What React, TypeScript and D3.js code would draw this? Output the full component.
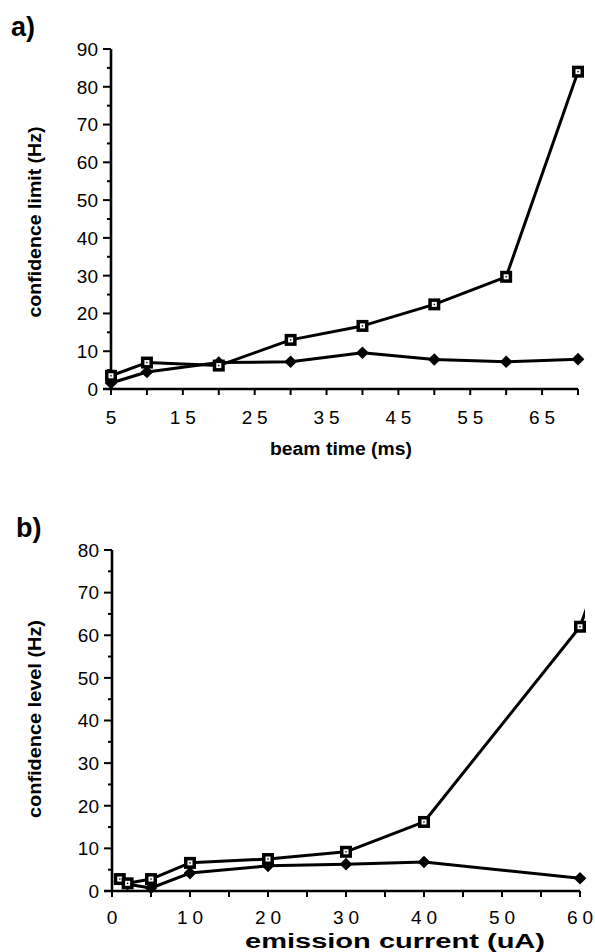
import React from "react";
import * as d3 from "d3";

// ---- panel a: beam time ----
const beamTime = [5, 10, 20, 30, 40, 50, 60, 70];
const beamSquares = [3.5, 7, 6.2, 13, 16.7, 22.4, 29.7, 84];
const beamDiamonds = [1.6, 4.5, 7, 7.2, 9.6, 7.8, 7.2, 7.9];
const beamXTickLabels = [5, 15, 25, 35, 45, 55, 65];
const beamYTickLabels = [0, 10, 20, 30, 40, 50, 60, 70, 80, 90];

// ---- panel b: emission current ----
const emissionSqX = [1, 2, 5, 10, 20, 30, 40, 60, 70];
const emissionSquares = [2.8, 1.8, 2.8, 6.6, 7.5, 9.2, 16.2, 62, 113];
const emissionDiaX = [2, 5, 10, 20, 30, 40, 60];
const emissionDiamonds = [1.6, 0.7, 4.2, 5.9, 6.3, 6.8, 3];
const emissionXTickLabels = [0, 10, 20, 30, 40, 50, 60];
const emissionYTickLabels = [0, 10, 20, 30, 40, 50, 60, 70, 80];

const FONT = "'Liberation Sans', Arial, Helvetica, sans-serif";

type PanelProps = {
  id: string;
  letter: string;
  letterX: number;
  letterY: number;
  xDomain: [number, number];
  xRange: [number, number];
  yDomain: [number, number];
  yRange: [number, number];
  xTickLabels: number[];
  yTickLabels: number[];
  sqX: number[];
  sqY: number[];
  diaX: number[];
  diaY: number[];
  xTitle: string;
  xTitleX: number;
  xTitleY: number;
  xTitleLen: number;
  xTitleSize: number;
  xLabelBaseline: number;
  yTitle: string;
  yTitleCenter: number;
  yTitleLen: number;
  clipRight: number;
};

function Panel(p: PanelProps) {
  const x = d3.scaleLinear().domain(p.xDomain).range(p.xRange);
  const y = d3.scaleLinear().domain(p.yDomain).range(p.yRange);
  const x0 = p.xRange[0];
  const y0 = p.yRange[0];
  const xTicks = d3.range(p.xDomain[0], p.xDomain[1] + 0.001, 5);
  const yTicks = d3.range(p.yDomain[0], p.yDomain[1] + 0.001, 5);
  const line = d3
    .line<[number, number]>()
    .x((d) => x(d[0]))
    .y((d) => y(d[1]));
  const sq: [number, number][] = p.sqX.map((v, i) => [v, p.sqY[i]]);
  const di: [number, number][] = p.diaX.map((v, i) => [v, p.diaY[i]]);
  const inDomain = (d: [number, number]) => d[0] <= p.xDomain[1];
  const diamond = d3.symbol().type(d3.symbolSquare).size(80)();
  return (
    <g fontFamily={FONT}>
      <defs>
        <clipPath id={`clip-${p.id}`}>
          <rect x={0} y={0} width={p.clipRight} height={952} />
        </clipPath>
      </defs>
      <text x={p.letterX} y={p.letterY} fontSize={27} fontWeight="bold">
        {p.letter}
      </text>
      {/* y axis */}
      <line x1={x0} x2={x0} y1={p.yRange[1]} y2={y0} stroke="#000" strokeWidth={2.6} />
      {yTicks.map((t) => {
        const major = t % 10 === 0;
        return (
          <line key={"yt" + t} x1={x0 - (major ? 8 : 4)} x2={x0} y1={y(t)} y2={y(t)} stroke="#000" strokeWidth={2} />
        );
      })}
      {p.yTickLabels.map((t) => (
        <text key={"yl" + t} x={x0 - 13} y={y(t)} dy="0.36em" textAnchor="end" fontSize={19}>
          {t}
        </text>
      ))}
      {/* x axis */}
      <line x1={x0 - 8} x2={p.xRange[1]} y1={y0} y2={y0} stroke="#000" strokeWidth={2.6} />
      {xTicks.map((t) => (
        <line key={"xt" + t} x1={x(t)} x2={x(t)} y1={y0} y2={y0 + 6} stroke="#000" strokeWidth={2} />
      ))}
      {p.xTickLabels.map((t) => {
        const s = String(t);
        return (
          <text
            key={"xl" + t}
            x={x(t)}
            y={p.xLabelBaseline}
            textAnchor="middle"
            fontSize={19}
            {...(s.length > 1 ? { textLength: 26, lengthAdjust: "spacing" } : {})}
          >
            {s}
          </text>
        );
      })}
      <text
        x={p.xTitleX}
        y={p.xTitleY}
        textAnchor="middle"
        fontSize={p.xTitleSize}
        fontWeight="bold"
        textLength={p.xTitleLen}
        lengthAdjust="spacingAndGlyphs"
      >
        {p.xTitle}
      </text>
      <text
        transform={`translate(41,${p.yTitleCenter}) rotate(-90)`}
        textAnchor="middle"
        fontSize={18}
        fontWeight="bold"
        textLength={p.yTitleLen}
        lengthAdjust="spacingAndGlyphs"
      >
        {p.yTitle}
      </text>
      {/* series */}
      <g clipPath={`url(#clip-${p.id})`}>
        <path d={line(di) || ""} fill="none" stroke="#000" strokeWidth={3} strokeLinejoin="round" />
        <path d={line(sq) || ""} fill="none" stroke="#000" strokeWidth={3} strokeLinejoin="round" />
      </g>
      {di.filter(inDomain).map((d, i) => (
        <path
          key={"d" + i}
          d={diamond || ""}
          transform={`translate(${x(d[0])},${y(d[1])}) rotate(45)`}
          fill="#000"
        />
      ))}
      {sq.filter(inDomain).map((d, i) => (
        <g key={"s" + i} transform={`translate(${x(d[0])},${y(d[1])})`}>
          <rect x={-6} y={-6} width={12} height={12} fill="#000" />
          <rect x={-2.5} y={-2.5} width={5} height={5} fill="#fff" />
          <rect x={-0.7} y={-0.7} width={1.4} height={1.4} fill="#000" />
        </g>
      ))}
    </g>
  );
}

export default function App() {
  return (
    <svg
      width={595}
      height={952}
      viewBox="0 0 595 952"
      style={{ position: "absolute", left: 0, top: 0, background: "#fff" }}
    >
      <rect x={0} y={0} width={595} height={952} fill="#fff" />
      <Panel
        id="a"
        letter="a)"
        letterX={11}
        letterY={36}
        xDomain={[5, 70]}
        xRange={[111, 578]}
        yDomain={[0, 90]}
        yRange={[389, 49]}
        xTickLabels={beamXTickLabels}
        yTickLabels={beamYTickLabels}
        sqX={beamTime}
        sqY={beamSquares}
        diaX={beamTime}
        diaY={beamDiamonds}
        xTitle="beam time (ms)"
        xTitleX={341}
        xTitleY={455}
        xTitleLen={142}
        xTitleSize={18}
        xLabelBaseline={424}
        yTitle="confidence limit (Hz)"
        yTitleCenter={222}
        yTitleLen={191}
        clipRight={595}
      />
      <Panel
        id="b"
        letter="b)"
        letterX={16}
        letterY={537}
        xDomain={[0, 60]}
        xRange={[112, 580]}
        yDomain={[0, 80]}
        yRange={[891, 550]}
        xTickLabels={emissionXTickLabels}
        yTickLabels={emissionYTickLabels}
        sqX={emissionSqX}
        sqY={emissionSquares}
        diaX={emissionDiaX}
        diaY={emissionDiamonds}
        xTitle="emission current (uA)"
        xTitleX={395}
        xTitleY={948}
        xTitleLen={300}
        xTitleSize={20}
        xLabelBaseline={924}
        yTitle="confidence level (Hz)"
        yTitleCenter={719}
        yTitleLen={198}
        clipRight={585}
      />
    </svg>
  );
}
